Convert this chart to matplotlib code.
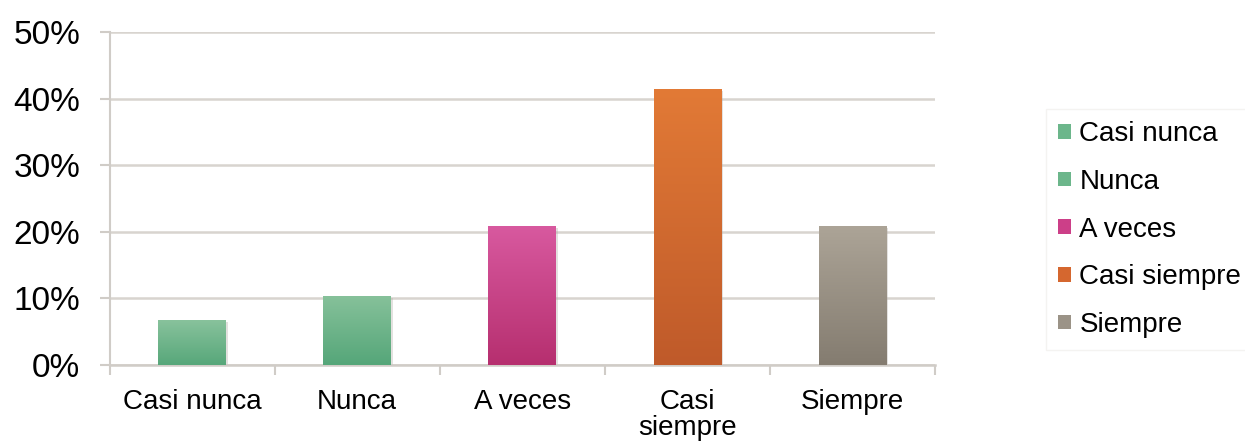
import numpy as np
import matplotlib
matplotlib.use('Agg')
import matplotlib.pyplot as plt
from matplotlib.colors import LinearSegmentedColormap
from matplotlib.ticker import PercentFormatter, FixedLocator
from matplotlib.patches import Patch

plt.rcParams['font.family'] = ['Liberation Sans', 'DejaVu Sans']

categories = ['Casi nunca', 'Nunca', 'A veces', 'Casi\nsiempre', 'Siempre']
legend_labels = ['Casi nunca', 'Nunca', 'A veces', 'Casi siempre', 'Siempre']
values = [0.067, 0.103, 0.208, 0.414, 0.208]
# top colour, bottom colour, legend colour
top_colors = ['#88c29c', '#86c19a', '#d8599f', '#e27a36', '#aca497']
bottom_colors = ['#57a77a', '#55a679', '#b62f6f', '#bf5a2a', '#847c70']
legend_colors = ['#6cb68b', '#6cb68b', '#cc3f88', '#d5672f', '#9b9387']

fig = plt.figure(figsize=(12.45, 4.44), dpi=100)
ax = fig.add_axes([0.088, 0.178, 0.663, 0.75])

x = np.arange(len(categories))
bars = ax.bar(x, values, width=0.41, color='none', edgecolor='none', zorder=3)

grad = np.linspace(0, 1, 256).reshape(-1, 1)
for i, b in enumerate(bars):
    # light shadow to the right
    sh = plt.Rectangle((b.get_x() + 0.012, 0), b.get_width(), b.get_height() - 0.002,
                       facecolor='#b0aaa4', alpha=0.35, edgecolor='none', zorder=2)
    ax.add_patch(sh)
    cmap = LinearSegmentedColormap.from_list('g%d' % i, [bottom_colors[i], top_colors[i]])
    im = ax.imshow(grad, cmap=cmap, aspect='auto', origin='lower',
                   extent=(b.get_x(), b.get_x() + b.get_width(), 0, b.get_height()),
                   zorder=3)
    im.set_clip_path(b)

ax.set_xlim(-0.5, len(categories) - 0.5)
ax.set_ylim(0, 0.5)
ax.set_yticks(np.arange(0, 0.51, 0.1))
ax.yaxis.set_major_formatter(PercentFormatter(1.0, decimals=0))
ax.grid(axis='y', color='#d8d4cf', lw=1.8, zorder=0)
ax.set_axisbelow(True)

ax.set_xticks(x)
ax.set_xticklabels(categories, fontsize=20, linespacing=1.0)
ax.xaxis.set_minor_locator(FixedLocator(np.arange(-0.5, len(categories), 1)))
ax.tick_params(axis='x', which='major', length=0, pad=17)
ax.tick_params(axis='x', which='minor', length=7, width=1.5, color='#d0ccc7', direction='out')
ax.tick_params(axis='y', labelsize=24, length=7, width=1.5, color='#d0ccc7', pad=14)
for lbl in ax.get_xticklabels():
    lbl.set_verticalalignment('top')

for s in ['top', 'right']:
    ax.spines[s].set_visible(False)
ax.spines['left'].set_color('#d0ccc7')
ax.spines['left'].set_linewidth(1.5)
ax.spines['bottom'].set_color('#d0ccc7')
ax.spines['bottom'].set_linewidth(1.8)

handles = [Patch(facecolor=c, edgecolor='none') for c in legend_colors]
leg = fig.legend(handles, legend_labels, loc='center left', bbox_to_anchor=(0.829, 0.483),
                 fontsize=20, frameon=True, handlelength=0.45, handleheight=0.45,
                 handletextpad=0.3, labelspacing=0.78, borderpad=0.45, fancybox=False)
leg.get_frame().set_edgecolor('#f2f0ee')
leg.get_frame().set_linewidth(1.0)

fig.savefig('out.png', dpi=100)
